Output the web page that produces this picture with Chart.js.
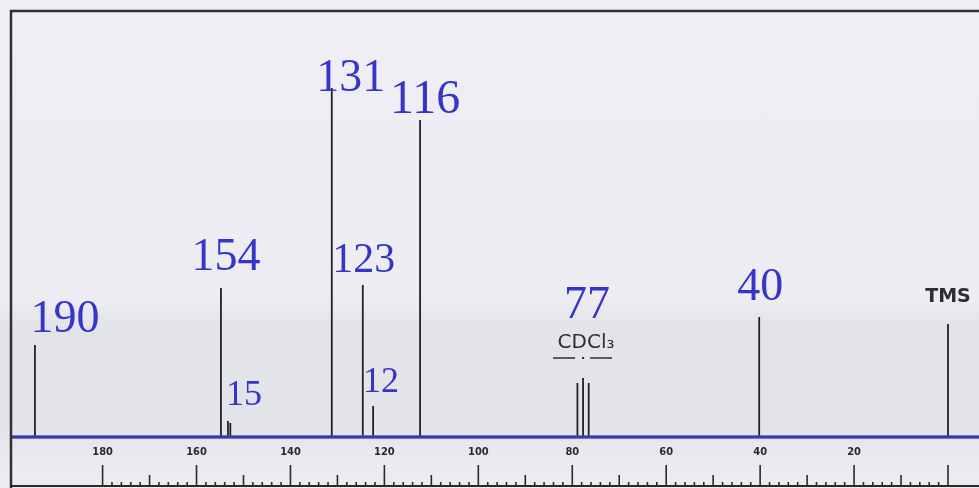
<!DOCTYPE html>
<html>
<head>
<meta charset="utf-8">
<script src="https://cdn.jsdelivr.net/npm/chart.js@4.4.1/dist/chart.umd.min.js"></script>
<style>
  html, body { margin: 0; padding: 0; }
  body {
    width: 979px; height: 488px; overflow: hidden;
    background: linear-gradient(to bottom, #eeeef4 0px, #ececf2 300px, #e3e4ea 325px, #e3e4ea 425px, #ebebf0 470px);
  }
  #wrap { position: relative; width: 979px; height: 488px; }
</style>
</head>
<body>
<div id="wrap"><canvas id="nmr"></canvas></div>
<script>
// 13C NMR peaks: chemical shift (ppm) and peak height (arbitrary units)
const shiftPpm = [194.4, 154.8, 153.3, 152.8, 131.2, 124.6, 122.4, 112.4, 78.9, 77.7, 76.5, 40.2, 0];
const peakHeight = [92, 149, 16, 14, 349, 152, 31, 317, 54, 59, 54, 120, 113];

// annotations written on the spectrum
const peakLabels = ['190', '154', '15', '131', '123', '12', '116', '77', '40'];
const labelPeak = [194.4, 154.8, 153.3, 131.2, 124.6, 122.4, 112.4, 77.7, 40.2];

// ppm scale
const tickValues = [180, 160, 140, 120, 100, 80, 60, 40, 20];
const xMin = -6.6, xMax = 199.5;

function heightAt(ppm) {
    return peakHeight[shiftPpm.indexOf(ppm)];
}

// stick spectrum: baseline up to each peak and back down
const spectrum = [{x: xMax, y: 0}];
shiftPpm.forEach((p, i) => {
    spectrum.push({x: p, y: 0}, {x: p, y: peakHeight[i]}, {x: p, y: 0});
});
spectrum.push({x: xMin, y: 0});

const blue = '#3535c9';
// label placement (px offsets from the peak top) and font size
const labelStyle = {
    '190': [30, 13, 46], '154': [5, 18, 46], '15': [16, 16, 36], '131': [19, -3, 46],
    '123': [1, 13, 42], '12': [8, 14, 36], '116': [5, 7, 48], '77': [4, 60, 46], '40': [1, 17, 46]
};

const paperPlugin = {
    id: 'paper',
    afterDraw(chart) {
        const ctx = chart.ctx;
        const xs = chart.scales.x, ys = chart.scales.y;
        const area = chart.chartArea;
        ctx.save();
        // frame
        ctx.strokeStyle = '#303030';
        ctx.lineWidth = 2.5;
        ctx.beginPath();
        ctx.moveTo(area.left, 488);
        ctx.lineTo(area.left, area.top);
        ctx.lineTo(979, area.top);
        ctx.stroke();

        // ruler below the labels
        const rulerY = 486;
        ctx.lineWidth = 2;
        ctx.strokeStyle = '#2a2a2a';
        ctx.beginPath();
        ctx.moveTo(area.left, rulerY);
        ctx.lineTo(979, rulerY);
        ctx.stroke();
        ctx.lineWidth = 1.6;
        for (let v = 0; v <= 180; v += 2) {
            const px = xs.getPixelForValue(v);
            const len = v % 20 === 0 ? 21 : (v % 10 === 0 ? 11 : 4);
            ctx.beginPath();
            ctx.moveTo(px, rulerY);
            ctx.lineTo(px, rulerY - len);
            ctx.stroke();
        }

        // peak annotations
        ctx.fillStyle = blue;
        ctx.textAlign = 'center';
        ctx.textBaseline = 'alphabetic';
        peakLabels.forEach((t, i) => {
            const [dx, dy, size] = labelStyle[t];
            const px = xs.getPixelForValue(labelPeak[i]) + dx;
            const py = ys.getPixelForValue(heightAt(labelPeak[i])) - dy;
            ctx.font = size + 'px "Liberation Serif", "DejaVu Serif", serif';
            ctx.fillText(t, px, py);
        });

        // solvent and reference
        ctx.fillStyle = '#2e2e2e';
        ctx.font = '20px "DejaVu Sans", sans-serif';
        const cd = xs.getPixelForValue(77.7);
        ctx.fillText('CDCl₃', cd + 3, ys.getPixelForValue(59) - 30);
        ctx.strokeStyle = '#2e2e2e';
        ctx.lineWidth = 1.5;
        ctx.beginPath();
        ctx.moveTo(cd - 30, ys.getPixelForValue(59) - 20);
        ctx.lineTo(cd - 8, ys.getPixelForValue(59) - 20);
        ctx.moveTo(cd + 7, ys.getPixelForValue(59) - 20);
        ctx.lineTo(cd + 29, ys.getPixelForValue(59) - 20);
        ctx.stroke();
        ctx.fillRect(cd - 1, ys.getPixelForValue(59) - 21, 2, 2);

        ctx.font = 'bold 19px "DejaVu Sans", sans-serif';
        ctx.fillText('TMS', xs.getPixelForValue(0), ys.getPixelForValue(113) - 22);
        ctx.restore();
    }
};

new Chart(document.getElementById('nmr'), {
    type: 'scatter',
    data: {
        datasets: [
            {
                label: 'baseline',
                data: [{x: xMax, y: 0}, {x: xMin, y: 0}],
                showLine: true,
                borderColor: 'rgba(62, 62, 180, 0.9)',
                borderWidth: 3.5,
                pointRadius: 0,
                clip: false
            },
            {
                label: 'spectrum',
                data: spectrum,
                showLine: true,
                borderColor: '#222222',
                borderWidth: 1.8,
                pointRadius: 0,
                clip: false
            }
        ]
    },
    options: {
        responsive: true,
        maintainAspectRatio: false,
        animation: false,
        layout: {padding: {left: 11, top: 11, right: 0, bottom: 0}},
        plugins: {legend: {display: false}, tooltip: {enabled: false}},
        scales: {
            x: {
                type: 'linear',
                reverse: true,
                min: xMin,
                max: xMax,
                afterBuildTicks: (s) => { s.ticks = tickValues.map(v => ({value: v})); },
                afterFit: (s) => { s.height = 51; },
                grid: {display: false, drawTicks: false},
                border: {display: false},
                ticks: {
                    padding: 9,
                    color: '#2a2a2a',
                    maxRotation: 0,
                    font: {family: '"DejaVu Sans Condensed", "DejaVu Sans", sans-serif', size: 11, weight: 'bold'}
                }
            },
            y: {
                display: false,
                min: 0,
                max: 426
            }
        }
    },
    plugins: [paperPlugin]
});
</script>
</body>
</html>
